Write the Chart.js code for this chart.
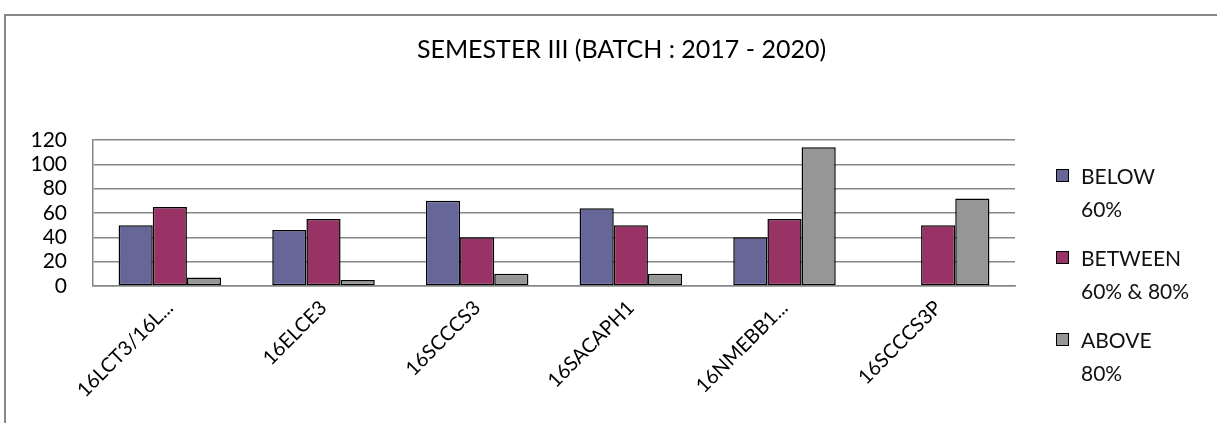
<!DOCTYPE html>
<html>
<head>
<meta charset="utf-8">
<script src="https://cdn.jsdelivr.net/npm/chart.js@4"></script>
<style>
  body { margin: 0; background: #fff; }
  #wrap { position: relative; width: 1217px; height: 423px; overflow: hidden; }
  #frame { position: absolute; left: 4px; top: 14px; width: 1300px; height: 500px;
           border-left: 2px solid #878787; border-top: 2px solid #878787; }
  #chart { position: absolute; left: 0; top: 0; }
  #legend { position: absolute; left: 1056px; top: 159px; font-family: Lato, sans-serif;
            font-size: 21px; color: #111; }
  .item { position: relative; padding-left: 25px; line-height: 33px; height: 66px; margin-bottom: 16px; }
  .box { position: absolute; left: 0; top: 10px; width: 13px; height: 13px; border: 1.5px solid #000; box-sizing: border-box; }
</style>
</head>
<body>
<div id="wrap">
  <div id="frame"></div>
  <canvas id="chart" width="1217" height="423"></canvas>
  <div id="legend"></div>
</div>
<script>
// data
const categories = ["16LCT3/16L...", "16ELCE3", "16SCCCS3", "16SACAPH1", "16NMEBB1...", "16SCCCS3P"];
const below60 = [50, 46, 70, 64, 40, null];
const between60and80 = [65, 55, 40, 50, 55, 50];
const above80 = [7, 5, 10, 10, 114, 72];
const seriesNames = [["BELOW", "60%"], ["BETWEEN", "60% & 80%"], ["ABOVE", "80%"]];
const yTicks = [0, 20, 40, 60, 80, 100, 120];

const colors = ["#666699", "#993366", "#969696"];
const gridColor = "#878787";

const ctx = document.getElementById("chart").getContext("2d");

const data = {
  labels: categories,
  datasets: [below60, between60and80, above80].map((vals, i) => ({
    label: seriesNames[i].join(" "),
    data: vals,
    backgroundColor: colors[i],
    borderColor: "#000",
    borderWidth: 1.5,
    borderSkipped: false,
    categoryPercentage: 0.667,
    barPercentage: 1
  }))
};

const chart = new Chart(ctx, {
  type: "bar",
  data: data,
  options: {
    responsive: false,
    animation: false,
    layout: { padding: { left: 26, right: 0, top: 0, bottom: 0 } },
    plugins: {
      legend: { display: false },
      tooltip: { enabled: false },
      title: {
        display: true,
        text: "SEMESTER III (BATCH : 2017 - 2020)",
        color: "#000",
        font: { family: "Lato", size: 25, weight: "normal" },
        padding: { top: 35, bottom: 75 }
      }
    },
    scales: {
      x: {
        grid: { display: false, drawTicks: false },
        border: { color: gridColor, width: 1.5 },
        ticks: {
          color: "#000",
          font: { family: "Lato", size: 20 },
          minRotation: 45,
          maxRotation: 45,
          padding: 10
        },
        afterFit: (s) => { s.height = 137; }
      },
      y: {
        min: 0,
        max: 120,
        afterBuildTicks: (s) => { s.ticks = yTicks.map(v => ({ value: v })); },
        grid: { color: gridColor, lineWidth: 1.5, drawTicks: false },
        border: { color: gridColor, width: 1.5 },
        ticks: {
          color: "#000",
          font: { family: "Lato", size: 21 },
          padding: 26,
          autoSkip: false
        },
        afterFit: (s) => { s.width = 67; }
      },
      // empty right axis reserving the legend column
      side: {
        position: "right",
        min: 0,
        max: 120,
        grid: { display: false, drawTicks: false },
        border: { display: false },
        ticks: { display: false },
        afterFit: (s) => { s.width = 202; }
      }
    }
  }
});

// legend built from the datasets
const legend = document.getElementById("legend");
chart.data.datasets.forEach((ds, i) => {
  const item = document.createElement("div");
  item.className = "item";
  const box = document.createElement("span");
  box.className = "box";
  box.style.background = ds.backgroundColor;
  item.appendChild(box);
  seriesNames[i].forEach(line => {
    const d = document.createElement("div");
    d.textContent = line;
    item.appendChild(d);
  });
  legend.appendChild(item);
});
</script>
</body>
</html>
